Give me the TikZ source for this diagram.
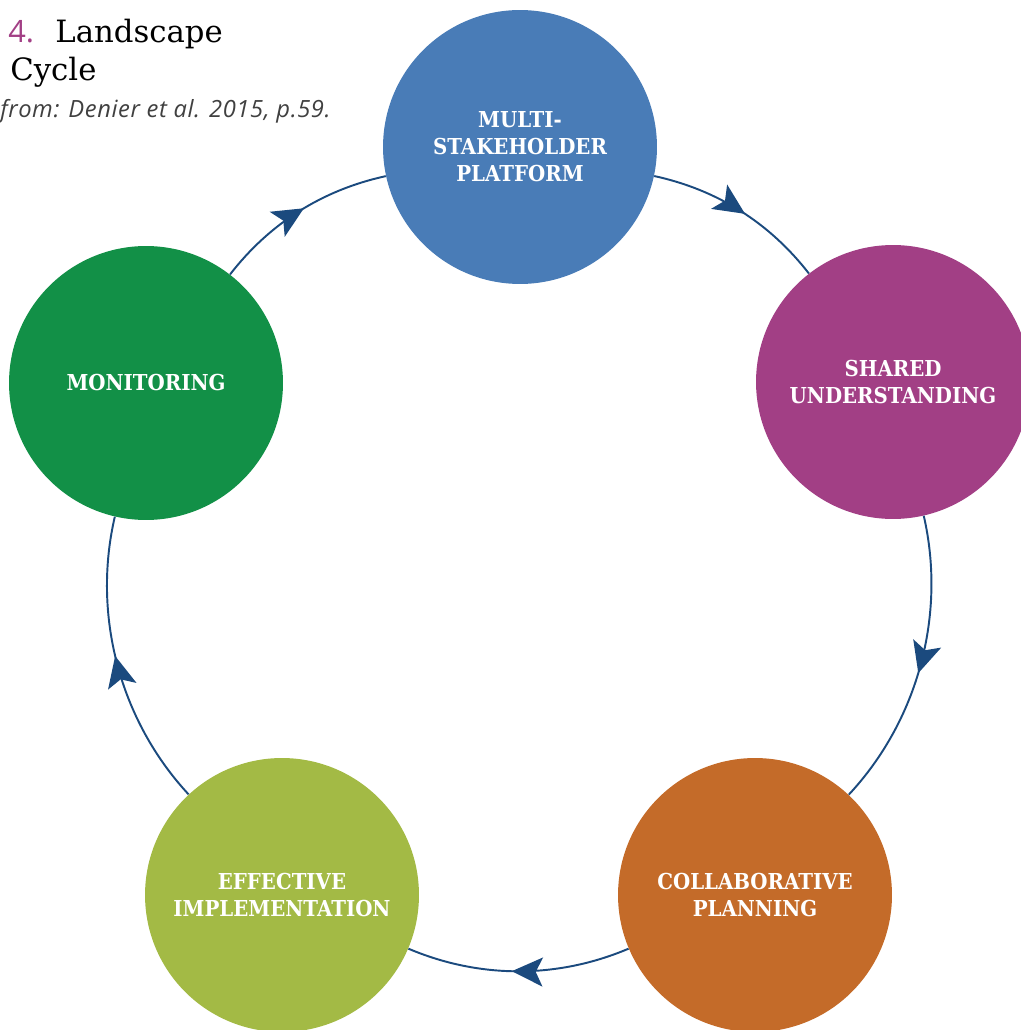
\documentclass[tikz,border=0pt]{standalone}
\usepackage{fontspec}
\usetikzlibrary{arrows.meta,decorations.markings}
\newfontfamily\labelfont[FakeStretch=0.9]{DejaVu Serif}
\newfontfamily\titlefont{DejaVu Serif}
\newfontfamily\notefont{Open Sans}
\newfontfamily\sourcefont[LetterSpace=2.5]{Open Sans}
\definecolor{platformblue}{HTML}{497CB7}
\definecolor{sharedpurple}{HTML}{A23F85}
\definecolor{planorange}{HTML}{C46B29}
\definecolor{implgreen}{HTML}{A3BA45}
\definecolor{monitorgreen}{HTML}{129047}
\definecolor{cyclearc}{HTML}{1B4A7E}
\definecolor{notegray}{HTML}{404040}

\begin{document}
\begin{tikzpicture}[x=0.02cm,y=-0.02cm,
        stage/.style={circle,minimum size=5.48cm,inner sep=0pt,text=white,align=center,
            font=\labelfont\bfseries\fontsize{12.5}{15.4}\selectfont},
        mid arrow/.style={draw=cyclearc,line width=1.1pt,looseness=0.9,postaction={decorate},decoration={markings,
            mark=at position 0.53 with {\arrow[cyclearc]{Stealth[length=0.62cm,width=0.58cm,inset=0.14cm]}}}}]
        \useasboundingbox (0,0) rectangle (1020,1030);

        % stages of the cycle
        \node[stage,fill=platformblue] (platform) at (520,147) {MULTI-\\STAKEHOLDER\\PLATFORM};
        \node[stage,fill=sharedpurple] (understanding) at (893,382) {SHARED\\UNDERSTANDING};
        \node[stage,fill=planorange] (planning) at (755,895) {COLLABORATIVE\\PLANNING};
        \node[stage,fill=implgreen] (implementation) at (282,895) {EFFECTIVE\\IMPLEMENTATION};
        \node[stage,fill=monitorgreen] (monitoring) at (146,383) {MONITORING};

        \path[every edge/.style={mid arrow}]
        (platform) edge[bend left=20] (understanding)
        (understanding) edge[bend left=28] (planning)
        (planning) edge[bend left=23] (implementation)
        (implementation) edge[bend left=28] (monitoring)
        (monitoring) edge[bend left=20] (platform);

        % heading, cut at the left edge
        \node[anchor=base west,inner sep=0pt,text=sharedpurple,font=\notefont\fontsize{17.5}{20}\selectfont] (fignum) at (8,43) {4.};
        \node[anchor=base west,inner sep=0pt,font=\titlefont\fontsize{17.5}{21}\selectfont] (figtitle) at (55,43) {Landscape};
        \node[anchor=base west,inner sep=0pt,font=\titlefont\fontsize{17.5}{21}\selectfont] (figtitle2) at (10,81) {Cycle};
        \node[anchor=base west,inner sep=0pt,text=notegray,font=\sourcefont\itshape\fontsize{13.5}{16}\selectfont] (source) at (0,118) {from: Denier et al. 2015, p.59.};
\end{tikzpicture}
\end{document}
